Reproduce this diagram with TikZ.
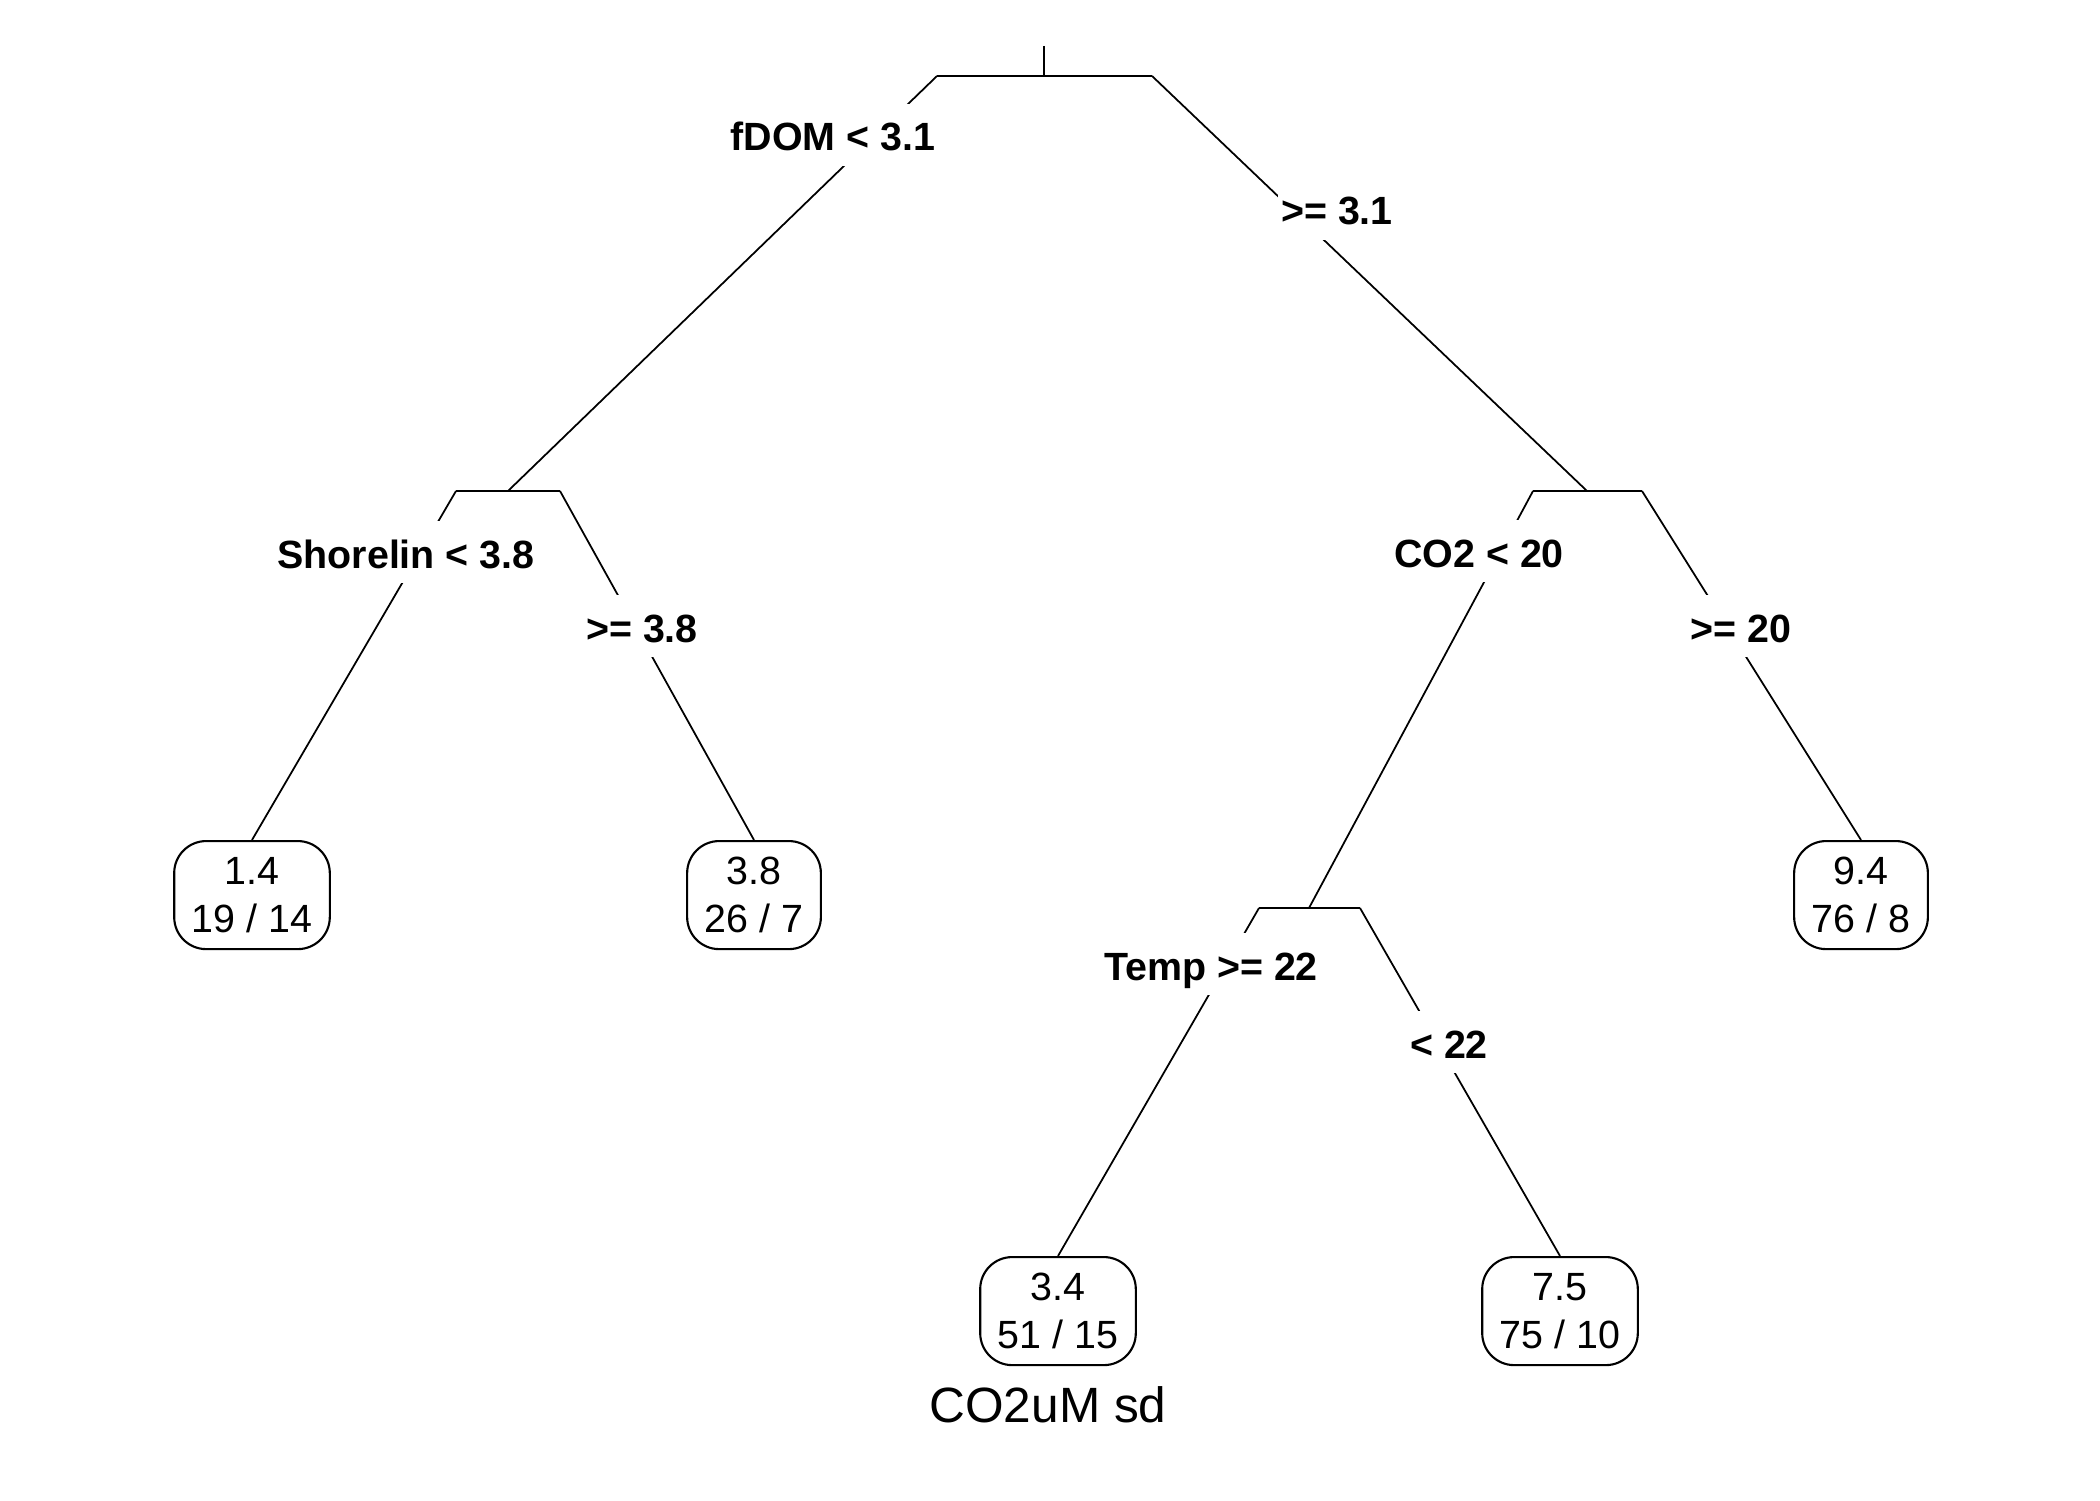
\documentclass[tikz,border=0pt]{standalone}
\usepackage{fontspec}
\setmainfont{Liberation Sans}
\begin{document}
\begin{tikzpicture}[
  x=0.01cm, y=-0.01cm,
  line width=0.5pt,
  split/.style={fill=white, anchor=base, font=\fontsize{11.2}{13.66}\selectfont\bfseries, text height=9pt, text depth=0pt, inner xsep=1pt, inner ysep=4.4pt},
  leaf/.style={draw, anchor=north, align=center, rounded corners=3.2mm, line width=0.6pt, minimum height=10.8mm, inner xsep=5pt, font=\fontsize{11.2}{13.66}\selectfont},
  title/.style={anchor=base, font=\fontsize{14.1}{17}\selectfont}
]
\useasboundingbox (0,0) rectangle (2100,1500);

% split bars
\coordinate (top) at (1044,46);
\coordinate (root) at (1044,76);
\coordinate (rootL) at (937,76);
\coordinate (rootR) at (1152,76);
\coordinate (shore) at (508,491);
\coordinate (shoreL) at (456,491);
\coordinate (shoreR) at (560,491);
\coordinate (co) at (1587,491);
\coordinate (coL) at (1533,491);
\coordinate (coR) at (1642,491);
\coordinate (temp) at (1309,908);
\coordinate (tempL) at (1259,908);
\coordinate (tempR) at (1360,908);

\draw (top) -- (root);
\draw (rootL) -- (rootR);
\draw (shoreL) -- (shoreR);
\draw (coL) -- (coR);
\draw (tempL) -- (tempR);

% leaves
\node[leaf] (leafA) at (252,840) {1.4\\19 / 14};
\node[leaf] (leafB) at (754,840) {3.8\\26 / 7};
\node[leaf] (leafC) at (1861,840) {9.4\\76 / 8};
\node[leaf] (leafD) at (1058,1256) {3.4\\51 / 15};
\node[leaf] (leafE) at (1560,1256) {7.5\\75 / 10};

\draw (rootL) -- (shore);
\draw (rootR) -- (co);
\draw (shoreL) -- (leafA.north);
\draw (shoreR) -- (leafB.north);
\draw (coL) -- (temp);
\draw (coR) -- (leafC.north);
\draw (tempL) -- (leafD.north);
\draw (tempR) -- (leafE.north);

% split labels
\node[split] (fdomlab) at (833,151) {fDOM < 3.1};
\node[split] (fdomge) at (1337,225) {>= 3.1};
\node[split] (shorelab) at (406,568) {Shorelin < 3.8};
\node[split] (shorege) at (642,642) {>= 3.8};
\node[split] (colab) at (1479,567) {CO2 < 20};
\node[split] (coge) at (1741,642) {>= 20};
\node[split] (templab) at (1211,980) {Temp >= 22};
\node[split] (templt) at (1449,1058) {< 22};

\node[title] (main) at (1048,1422) {CO2uM sd};
\end{tikzpicture}
\end{document}
